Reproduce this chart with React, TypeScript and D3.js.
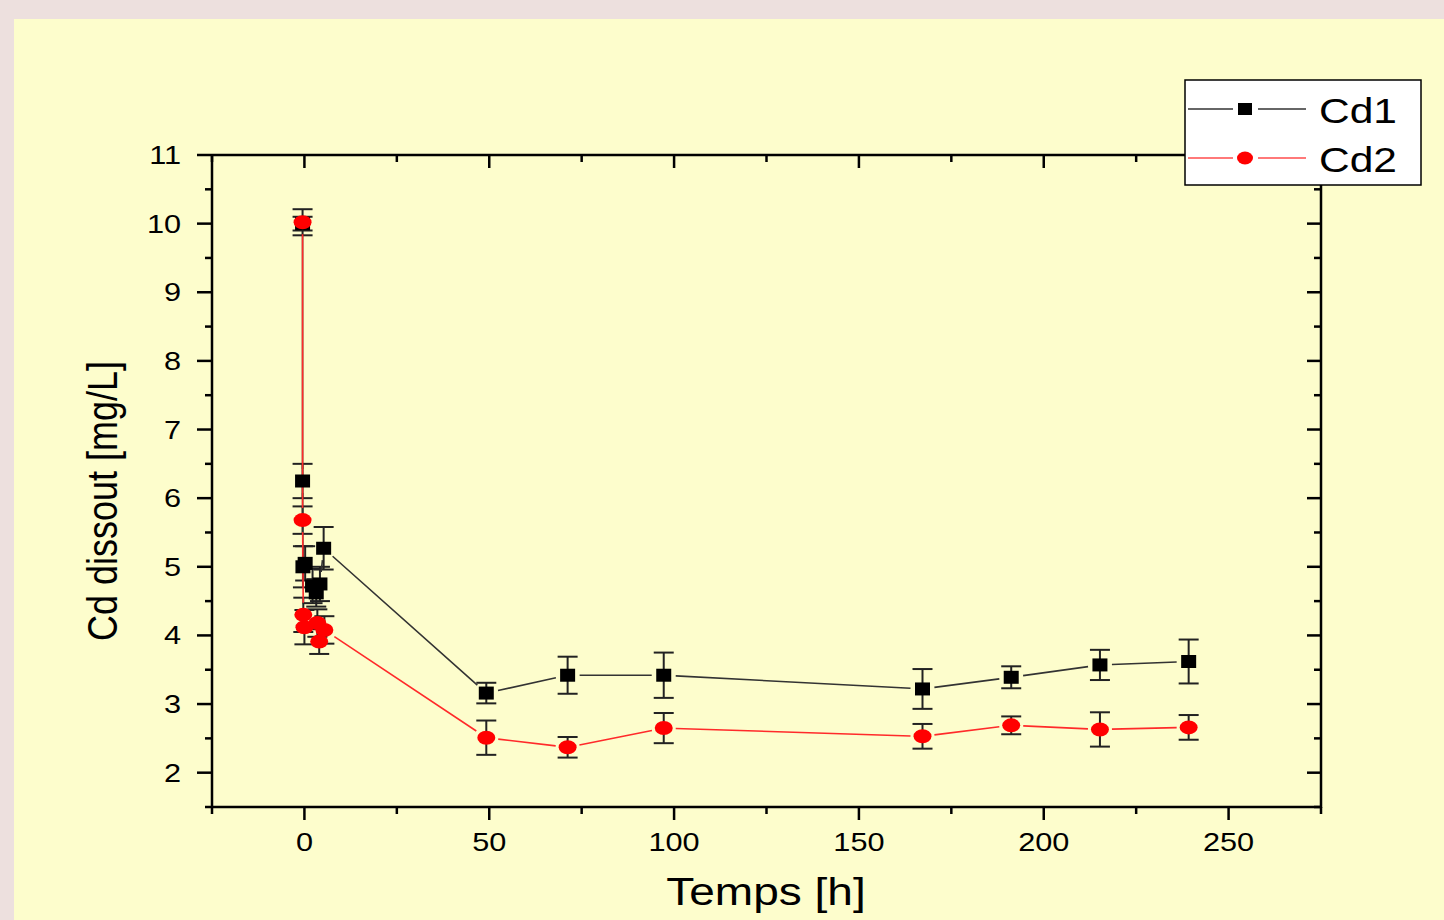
import React from 'react';
import * as d3 from 'd3';

// ---- data ----
const cd1Time = [-0.5, -0.5, -0.4, 0.2, 2.2, 3.2, 4.2, 5.2, 49.2, 71.2, 97.2, 167.2, 191.2, 215.2, 239.2];
const cd1Value = [10.0, 6.25, 5.0, 5.05, 4.72, 4.62, 4.75, 5.27, 3.16, 3.42, 3.42, 3.22, 3.39, 3.57, 3.62];
const cd1Err = [0.1, 0.25, 0.3, 0.25, 0.25, 0.2, 0.25, 0.31, 0.15, 0.27, 0.33, 0.29, 0.16, 0.22, 0.32];

const cd2Time = [-0.5, -0.5, -0.3, 0.0, 3.5, 4.0, 5.4, 49.2, 71.2, 97.2, 167.2, 191.2, 215.2, 239.2];
const cd2Value = [10.02, 5.68, 4.3, 4.12, 4.18, 3.91, 4.08, 2.51, 2.37, 2.65, 2.53, 2.69, 2.63, 2.66];
const cd2Err = [0.19, 0.2, 0.25, 0.25, 0.2, 0.18, 0.2, 0.25, 0.15, 0.22, 0.18, 0.13, 0.25, 0.18];

const xTickValues = [0, 50, 100, 150, 200, 250];
const yTickValues = [2, 3, 4, 5, 6, 7, 8, 9, 10, 11];
const seriesNames = ['Cd1', 'Cd2'];

const FONT = '"Liberation Sans", Arial, sans-serif';
const SX = 1.18; // horizontal stretch of the reference picture

export default function App() {
  const W = 1444, H = 920;
  const left = 212, right = 1321, top = 155, bottom = 807;
  const x = d3.scaleLinear().domain([-25, 275]).range([left, right]);
  const y = d3.scaleLinear().domain([1.5, 11]).range([bottom, top]);

  const xMinor = d3.range(-25, 276, 25).filter(v => !xTickValues.includes(v));
  const yMinor = d3.range(1.5, 11.01, 0.5).filter(v => Math.abs(v - Math.round(v)) > 0.01);

  const mkPts = (t: number[], v: number[]) => t.map((tt, i) => [x(tt), y(v[i])] as [number, number]);
  const pts1 = mkPts(cd1Time, cd1Value);
  const pts2 = mkPts(cd2Time, cd2Value);

  const gap = 12;
  const gapSegments = (pts: [number, number][]) => {
    const segs: string[] = [];
    for (let i = 0; i < pts.length - 1; i++) {
      const [x0, y0] = pts[i];
      const [x1, y1] = pts[i + 1];
      const d = Math.hypot(x1 - x0, y1 - y0);
      if (d <= 2 * gap) continue;
      const ux = (x1 - x0) / d, uy = (y1 - y0) / d;
      segs.push(`M${x0 + ux * gap},${y0 + uy * gap}L${x1 - ux * gap},${y1 - uy * gap}`);
    }
    return segs.join('');
  };

  const errBars = (t: number[], v: number[], e: number[], key: string) =>
    t.map((tt, i) => {
      const cx = x(tt);
      const y0 = y(v[i] - e[i]);
      const y1 = y(v[i] + e[i]);
      return (
        <g key={key + i} stroke="#222" strokeWidth={2}>
          <line x1={cx} x2={cx} y1={y0} y2={y1} />
          <line x1={cx - 10} x2={cx + 10} y1={y0} y2={y0} />
          <line x1={cx - 10} x2={cx + 10} y1={y1} y2={y1} />
        </g>
      );
    });

  const hText = (tx: number, ty: number, s: string, size: number, anchor: string, key?: string) => (
    <text key={key} transform={`translate(${tx},${ty}) scale(${SX},1)`} textAnchor={anchor as any}
      fontSize={size} fontFamily={FONT} fill="#000">{s}</text>
  );

  return (
    <svg width={W} height={H} style={{ position: 'absolute', left: 0, top: 0, display: 'block' }}>
      <rect x={0} y={0} width={W} height={H} fill="#ede0de" />
      <rect x={14} y={19} width={W - 14} height={H - 19} fill="#fdfdcc" />

      {/* error bars */}
      {errBars(cd1Time, cd1Value, cd1Err, 'e1')}
      {errBars(cd2Time, cd2Value, cd2Err, 'e2')}

      {/* lines */}
      <path d={gapSegments(pts1)} fill="none" stroke="#333" strokeWidth={1.6} />
      <path d={gapSegments(pts2)} fill="none" stroke="#ff2a2a" strokeWidth={1.6} />

      {/* markers */}
      {pts1.map(([px, py], i) => (
        <rect key={'m1' + i} x={px - 7.5} y={py - 6.5} width={15} height={13} fill="#000" />
      ))}
      {pts2.map(([px, py], i) => (
        <ellipse key={'m2' + i} cx={px} cy={py} rx={9} ry={7} fill="#ff0000" />
      ))}

      {/* axes frame */}
      <g stroke="#000" strokeWidth={2.5} fill="none">
        <line x1={left} x2={right} y1={bottom} y2={bottom} />
        <line x1={left} x2={right} y1={top} y2={top} />
        <line x1={left} x2={left} y1={top} y2={bottom + 1} />
        <line x1={right} x2={right} y1={top} y2={bottom + 1} />
      </g>
      <g stroke="#000" strokeWidth={2.5}>
        {xTickValues.map(v => (
          <g key={'xt' + v}>
            <line x1={x(v)} x2={x(v)} y1={bottom} y2={bottom + 13} />
            <line x1={x(v)} x2={x(v)} y1={top} y2={top + 13} />
          </g>
        ))}
        {xMinor.map(v => (
          <g key={'xm' + v}>
            <line x1={x(v)} x2={x(v)} y1={bottom} y2={bottom + 7} />
            <line x1={x(v)} x2={x(v)} y1={top} y2={top + 7} />
          </g>
        ))}
        {yTickValues.map(v => (
          <g key={'yt' + v}>
            <line x1={left - 15} x2={left} y1={y(v)} y2={y(v)} />
            <line x1={right - 14} x2={right} y1={y(v)} y2={y(v)} />
          </g>
        ))}
        {yMinor.map(v => (
          <g key={'ym' + v}>
            <line x1={left - 7} x2={left} y1={y(v)} y2={y(v)} />
            <line x1={right - 7} x2={right} y1={y(v)} y2={y(v)} />
          </g>
        ))}
      </g>

      {/* tick labels */}
      {xTickValues.map(v => hText(x(v), 851, String(v), 26, 'middle', 'xl' + v))}
      {yTickValues.map(v => hText(181, y(v) + 9, String(v), 26, 'end', 'yl' + v))}

      {/* axis titles */}
      {hText(766, 905, 'Temps [h]', 39, 'middle')}
      <text transform={`translate(117,501) rotate(-90) scale(1,${SX})`} textAnchor="middle"
        fontSize={36} fontFamily={FONT} fill="#000">Cd dissout [mg/L]</text>

      {/* legend */}
      <rect x={1185} y={80} width={236} height={105} fill="#ffffff" stroke="#000" strokeWidth={1.5} />
      <line x1={1188} x2={1233} y1={109} y2={109} stroke="#333" strokeWidth={1.5} />
      <line x1={1258} x2={1306} y1={109} y2={109} stroke="#333" strokeWidth={1.5} />
      <rect x={1245 - 7} y={109 - 6} width={14} height={12} fill="#000" />
      <line x1={1188} x2={1233} y1={158} y2={158} stroke="#ff4d4d" strokeWidth={1.5} />
      <line x1={1258} x2={1306} y1={158} y2={158} stroke="#ff4d4d" strokeWidth={1.5} />
      <ellipse cx={1245} cy={158} rx={8} ry={6.5} fill="#ff0000" />
      {hText(1319, 123, seriesNames[0], 36, 'start')}
      {hText(1319, 172, seriesNames[1], 36, 'start')}
    </svg>
  );
}
